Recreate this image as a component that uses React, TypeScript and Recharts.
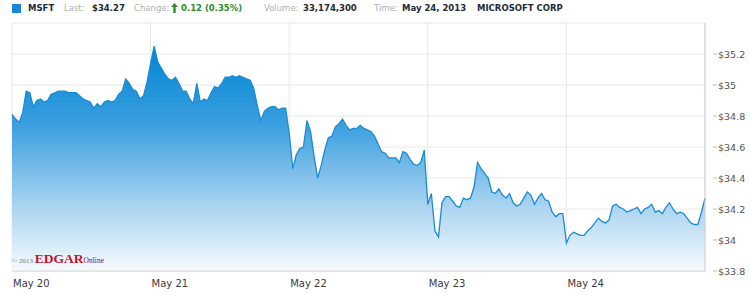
import { AreaChart, Area, XAxis, YAxis, CartesianGrid } from "recharts";

// MSFT intraday, 10-minute samples from 9:30 each session
const may20 = [
  34.81, 34.78, 34.76, 34.82, 34.96, 34.95, 34.86, 34.9, 34.91, 34.89,
  34.9, 34.94, 34.95, 34.96, 34.96, 34.96, 34.95, 34.95, 34.95, 34.93,
  34.91, 34.9, 34.89, 34.85, 34.88, 34.86, 34.89, 34.9, 34.89, 34.9,
  34.94, 34.96, 35.04, 35.01, 34.97, 34.96, 34.91, 34.93, 35.02,
];
const may21 = [
  35.14, 35.25, 35.15, 35.11, 35.07, 35.04, 35.03, 35.05, 35.01, 34.96,
  34.96, 34.91, 34.88, 35.01, 34.89, 34.91, 34.9, 34.95, 34.99, 34.98,
  35.01, 35.05, 35.05, 35.06, 35.05, 35.06, 35.05, 35.04, 35.03, 34.98,
  34.87, 34.77, 34.83, 34.85, 34.86, 34.86, 34.84, 34.85, 34.85,
];
const may22 = [
  34.69, 34.46, 34.55, 34.59, 34.6, 34.77, 34.7, 34.54, 34.4, 34.48,
  34.58, 34.66, 34.67, 34.73, 34.75, 34.78, 34.74, 34.71, 34.72, 34.72,
  34.74, 34.72, 34.71, 34.7, 34.67, 34.62, 34.57, 34.56, 34.53, 34.53,
  34.53, 34.5, 34.57, 34.56, 34.52, 34.49, 34.48, 34.5, 34.58,
];
const may23 = [
  34.23, 34.3, 34.06, 34.02, 34.24, 34.28, 34.28, 34.25, 34.22, 34.21,
  34.27, 34.26, 34.27, 34.34, 34.5, 34.46, 34.43, 34.4, 34.31, 34.3,
  34.33, 34.29, 34.27, 34.3, 34.24, 34.22, 34.23, 34.27, 34.31, 34.29,
  34.23, 34.27, 34.3, 34.26, 34.25, 34.18, 34.15, 34.17, 34.17,
];
const may24 = [
  33.98, 34.03, 34.05, 34.04, 34.03, 34.03, 34.06, 34.08, 34.11, 34.14,
  34.12, 34.11, 34.13, 34.22, 34.23, 34.21, 34.2, 34.18, 34.19, 34.2,
  34.21, 34.17, 34.2, 34.21, 34.23, 34.18, 34.19, 34.17, 34.21, 34.24,
  34.2, 34.17, 34.18, 34.17, 34.14, 34.11, 34.1, 34.1, 34.18, 34.27,
];

const days = ["May 20", "May 21", "May 22", "May 23", "May 24"];
const sessions = [may20, may21, may22, may23, may24];
const priceTicks = [33.8, 34, 34.2, 34.4, 34.6, 34.8, 35, 35.2];

const SESSION_MIN = 390;
const STEP_MIN = 10;

const data = sessions.flatMap((prices, d) =>
  prices.map((price, i) => ({ t: d * SESSION_MIN + i * STEP_MIN, price }))
);
const dayTicks = days.map((_, d) => d * SESSION_MIN);

const font = "'DejaVu Sans', Verdana, sans-serif";

function DayTick({ x, y, payload }: any) {
  const label = days[Math.round(payload.value / SESSION_MIN)];
  return (
    <text x={x + 1} y={y + 8} textAnchor="start" fontSize={10} fill="#3a3a3a" fontFamily={font}>
      {label}
    </text>
  );
}

function PriceTick({ x, y, payload }: any) {
  return (
    <g>
      <line x1={x} x2={x + 4} y1={y} y2={y} stroke="#bbb" />
      <text x={x + 5} y={y + 3.5} textAnchor="start" fontSize={9.5} fill="#555" fontFamily={font}>
        {"$" + payload.value}
      </text>
    </g>
  );
}

const hdr = { position: "absolute" as const, top: 3, fontFamily: font, fontSize: 8.5, whiteSpace: "nowrap" as const, lineHeight: "11px" };
const lbl = { ...hdr, color: "#b0b0b0" };
const val = { ...hdr, color: "#1e2a3a", fontWeight: 700 };

export default function App() {
  return (
    <div style={{ position: "absolute", left: 0, top: 0, width: 750, height: 294, background: "#fff", overflow: "hidden" }}>
      <div style={{ position: "absolute", left: 12, top: 4, width: 9, height: 9, background: "#1a86d6" }} />
      <span style={{ ...val, left: 28 }}>MSFT</span>
      <span style={{ ...lbl, left: 64 }}>Last:</span>
      <span style={{ ...val, left: 92 }}>$34.27</span>
      <span style={{ ...lbl, left: 134 }}>Change:</span>
      <svg style={{ position: "absolute", left: 171, top: 3 }} width={7} height={10}>
        <polygon points="3.5,0 7,4 4.7,4 4.7,10 2.3,10 2.3,4 0,4" fill="#2e8b2e" />
      </svg>
      <span style={{ ...val, left: 181, color: "#2e8b2e" }}>0.12 (0.35%)</span>
      <span style={{ ...lbl, left: 264 }}>Volume:</span>
      <span style={{ ...val, left: 303 }}>33,174,300</span>
      <span style={{ ...lbl, left: 374 }}>Time:</span>
      <span style={{ ...val, left: 402 }}>May 24, 2013</span>
      <span style={{ ...val, left: 477 }}>MICROSOFT CORP</span>

      <AreaChart width={750} height={294} data={data} margin={{ top: 23, right: 0, left: 12, bottom: 0 }}>
        <defs>
          <linearGradient id="msftFill" gradientUnits="userSpaceOnUse" x1="0" y1="45" x2="0" y2="271">
            <stop offset="0%" stopColor="#0084d4" />
            <stop offset="35%" stopColor="#3a9fdf" />
            <stop offset="70%" stopColor="#a6d2f0" />
            <stop offset="100%" stopColor="#f6fbfe" />
          </linearGradient>
        </defs>
        <CartesianGrid stroke="#e8e8e8" />
        <XAxis
          dataKey="t"
          type="number"
          domain={[0, SESSION_MIN * 5]}
          ticks={dayTicks}
          tick={<DayTick />}
          tickLine={false}
          axisLine={{ stroke: "#d6d6d6" }}
          height={23}
        />
        <YAxis
          orientation="right"
          domain={[33.8, 35.4]}
          ticks={priceTicks}
          tick={<PriceTick />}
          tickLine={false}
          tickSize={8}
          tickMargin={0}
          axisLine={{ stroke: "#cfcfcf" }}
          width={45}
        />
        <Area
          type="linear"
          dataKey="price"
          stroke="#1b8bd3"
          strokeWidth={1.3}
          fill="url(#msftFill)"
          fillOpacity={1}
          baseValue={33.8}
          isAnimationActive={false}
          dot={false}
          activeDot={false}
        />
      </AreaChart>

      <div style={{ position: "absolute", left: 12, top: 251, fontFamily: "'Liberation Serif', serif", whiteSpace: "nowrap", lineHeight: "14px" }}>
        <span style={{ fontSize: 7, color: "#777" }}>© 2013 </span>
        <span style={{ fontSize: 13.5, color: "#c8102e", fontWeight: 700 }}>EDGAR</span>
        <span style={{ fontSize: 7.5, color: "#8a1020" }}>Online</span>
      </div>
    </div>
  );
}
